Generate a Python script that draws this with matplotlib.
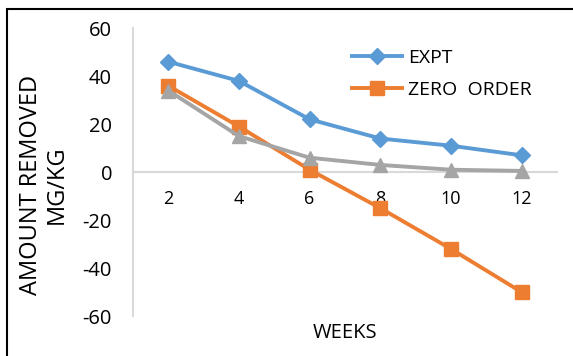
import matplotlib
matplotlib.use("Agg")
import matplotlib.pyplot as plt
from matplotlib.patches import Rectangle

plt.rcParams['font.family'] = ['Open Sans', 'DejaVu Sans']
plt.rcParams['axes.unicode_minus'] = False

weeks = [2, 4, 6, 8, 10, 12]
expt = [46, 38, 22, 14, 11, 7]
zero_order = [36, 19, 1, -15, -32, -50]
first_order = [34, 15, 6, 3, 1, 0.5]
y_ticks = [-60, -40, -20, 0, 20, 40, 60]

fig = plt.figure(figsize=(5.73, 3.56), dpi=100)
ax = fig.add_axes([0.232, 0.112, 0.740, 0.809])

x = list(range(len(weeks)))
ax.plot(x, expt, color='#5B9BD5', lw=2.8, marker='D', ms=8.5, label='EXPT', zorder=4)
ax.plot(x, zero_order, color='#ED7D31', lw=2.8, marker='s', ms=9.5, label='ZERO  ORDER', zorder=3)
ax.plot(x, first_order, color='#A5A5A5', lw=2.8, marker='^', ms=10, zorder=3)

ax.set_xlim(-0.5, len(weeks) - 0.5)
ax.set_ylim(-60, 60)
ax.set_yticks(y_ticks)
ax.set_xticks(x)
ax.set_xticklabels([str(w) for w in weeks])

for s in ['top', 'right']:
    ax.spines[s].set_visible(False)
ax.spines['bottom'].set_position(('data', 0))
ax.spines['bottom'].set_color('#D9D9D9')
ax.spines['bottom'].set_linewidth(1.5)
ax.spines['left'].set_color('#D9D9D9')
ax.spines['left'].set_linewidth(1.5)
ax.tick_params(axis='both', length=0, colors='#000000')
ax.tick_params(axis='y', pad=15, labelsize=14.5)
ax.tick_params(axis='x', pad=13, labelsize=13)

fig.text(0.076, 0.48, 'AMOUNT REMOVED\nMG/KG', rotation=90, ha='center', va='center',
         fontsize=17, linespacing=1.1)
fig.text(0.602, 0.065, 'WEEKS', ha='center', va='center', fontsize=14.5)

leg = ax.legend(loc='upper left', bbox_to_anchor=(0.475, 0.99), frameon=False,
                fontsize=14, handlelength=2.6, handletextpad=0.3, labelspacing=0.72)

fig.patches.append(Rectangle((7 / 573, -0.1), 1.2, 1 - 9 / 356 + 0.1,
                             transform=fig.transFigure, fill=False,
                             edgecolor='black', lw=1.5, zorder=0))

fig.savefig('out.png', dpi=100)
